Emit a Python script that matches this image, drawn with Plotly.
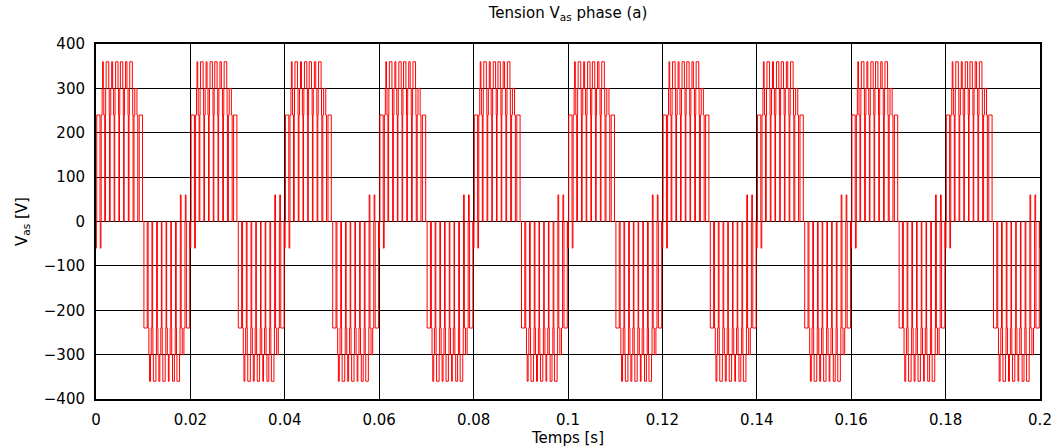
import plotly.graph_objects as go

# ---- data (one fundamental period, repeated) ----
period_ms = 20.0          # 50 Hz fundamental
n_periods = 10
carrier_ms = 1.0          # PWM carrier period
phase_ms = -0.15          # start of the positive half-wave

x_ticks = [0, 0.02, 0.04, 0.06, 0.08, 0.1, 0.12, 0.14, 0.16, 0.18, 0.2]
x_tick_text = ["0", "0.02", "0.04", "0.06", "0.08", "0.1", "0.12", "0.14", "0.16", "0.18", "0.2"]
y_ticks = [-400, -300, -200, -100, 0, 100, 200, 300, 400]

levels = [240, 300, 360]                # voltage steps [V]
side_width = 0.15                       # width of the small +/-60 V pulses [ms]

# positive half-wave, per carrier cycle
pos_gap  = [0.30, 0.25, 0.15, 0.15, 0.12, 0.12, 0.12, 0.15, 0.20, 0.30]
pos_w300 = [0.00, 0.35, 0.75, 0.60, 0.75, 0.75, 0.75, 0.70, 0.45, 0.00]
pos_w360 = [0.00, 0.15, 0.55, 0.20, 0.50, 0.50, 0.30, 0.55, 0.00, 0.00]
pos_side = [-60, -60, 0, 0, 0, 0, 0, 0, 0, 0]

# negative half-wave, per carrier cycle
neg_gap  = [0.30, 0.20, 0.15, 0.15, 0.12, 0.12, 0.12, 0.15, 0.20, 0.30]
neg_w300 = [0.00, 0.50, 0.75, 0.60, 0.75, 0.60, 0.75, 0.75, 0.35, 0.00]
neg_w360 = [0.00, 0.20, 0.55, 0.20, 0.50, 0.15, 0.40, 0.55, 0.00, 0.00]
neg_side = [0, 0, 0, 0, 0, 0, 0, 0, 60, 60]

# ---- build the step waveform ----
t_pts, v_pts = [], []


def add(t, v):
    t_pts.append(t / 1000.0)
    v_pts.append(v)


halves = [(1, pos_gap, pos_w300, pos_w360, pos_side),
          (-1, neg_gap, neg_w300, neg_w360, neg_side)]

for p in range(n_periods + 1):
    for h, (sgn, gap, w300, w360, side) in enumerate(halves):
        for k in range(len(gap)):
            t0 = p * period_ms + phase_ms + h * period_ms / 2 + k * carrier_ms
            g = gap[k]
            add(t0, 0)
            if side[k] != 0:
                add(t0 + g / 2 - side_width / 2, side[k])
                add(t0 + g / 2 + side_width / 2, 0)
            w = carrier_ms - g
            c = t0 + g + w / 2
            add(t0 + g, sgn * levels[0])
            if w300[k] > 0:
                add(c - w300[k] / 2, sgn * levels[1])
                if w360[k] > 0:
                    add(c - w360[k] / 2, sgn * levels[2])
                    add(c + w360[k] / 2, sgn * levels[1])
                add(c + w300[k] / 2, sgn * levels[0])
add((n_periods + 1) * period_ms, 0)

font = dict(family="DejaVu Sans, Arial, sans-serif", size=15, color="black")

fig = go.Figure()
fig.add_trace(go.Scatter(x=t_pts, y=v_pts, mode="lines",
                         line=dict(color="#ff0000", width=1, shape="hv"),
                         showlegend=False, hoverinfo="skip"))

axis_common = dict(showline=True, linecolor="black", linewidth=2, mirror=True,
                   showgrid=True, gridcolor="black", gridwidth=1,
                   zeroline=False, ticks="", tickfont=font, automargin=False)

fig.update_layout(
    width=1057, height=448,
    margin=dict(l=96, r=17, t=44, b=49),
    paper_bgcolor="white", plot_bgcolor="white",
    font=font,
    title=dict(text="Tension V<sub>as</sub> phase (a)", x=0.5, xanchor="center",
               xref="paper", y=1 - 13 / 448, yref="container", yanchor="middle",
               font=font, automargin=False),
    xaxis=dict(range=[0, 0.2], tickvals=x_ticks, ticktext=x_tick_text,
               title=dict(text="Temps [s]", font=font, standoff=4),
               ticklabelstandoff=6, **axis_common),
    yaxis=dict(range=[-400, 400], tickvals=y_ticks,
               title=dict(text="V<sub>as</sub> [V]", font=font, standoff=13),
               ticklabelstandoff=6, **axis_common),
)

fig.write_html("out.html", config={"displayModeBar": False},
               post_script="document.body.style.margin='0px';")
